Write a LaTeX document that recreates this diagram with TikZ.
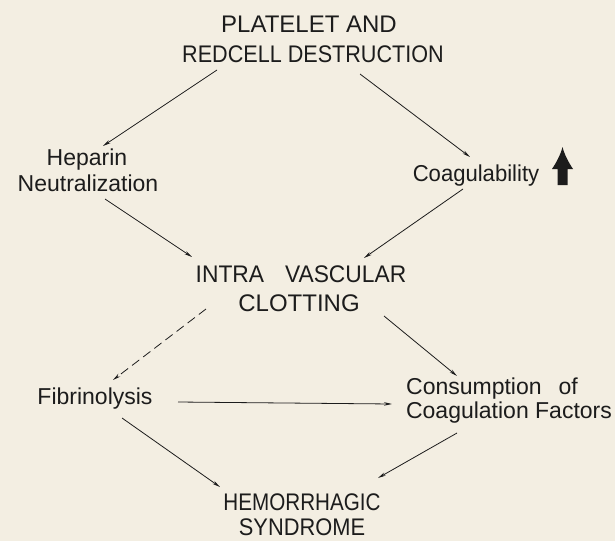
\documentclass[tikz,border=0pt]{standalone}
\usepackage{fontspec}
\setmainfont{Liberation Sans}
\usetikzlibrary{arrows.meta,calc}
\definecolor{paper}{RGB}{243,238,226}
\definecolor{ink}{RGB}{28,28,28}
\begin{document}
\begin{tikzpicture}[x=1pt,y=-1pt,
  lbl/.style={inner sep=0pt, anchor=base, text=ink, font=\fontsize{23}{23}\selectfont},
  capslbl/.style={lbl, font=\fontsize{24}{24}\selectfont},
  arr/.style={draw=ink, line width=0.8pt, -{Stealth[length=8pt,width=3.5pt]}},
  dsh/.style={arr, dash pattern=on 9pt off 5pt}
]
\fill[paper] (0,0) rectangle (615,541);
\useasboundingbox (0,0) rectangle (615,541);

\node[capslbl] (t1) at (309,32) {PLATELET AND};
\node[capslbl] (t2) at (313,62) {\scalebox{0.9}[1]{REDCELL DESTRUCTION}};
\node[lbl] (h1) at (87,165) {Heparin};
\node[lbl] (h2) at (88,191) {Neutralization};
\node[lbl] (cg) at (476,181) {\scalebox{0.96}[1]{Coagulability}};
\node[capslbl] (i1) at (301,282) {\scalebox{0.95}[1]{INTRA\hspace{22pt}VASCULAR}};
\node[capslbl] (i2) at (299,311) {CLOTTING};
\node[lbl] (fb) at (95,404) {Fibrinolysis};
\node[lbl] (c1) at (492,394) {Consumption\hspace{17pt}of};
\node[lbl] (c2) at (509,418) {Coagulation Factors};
\node[capslbl] (m1) at (302,510) {\scalebox{0.86}[1]{HEMORRHAGIC}};
\node[capslbl] (m2) at (302,535) {\scalebox{0.91}[1]{SYNDROME}};

% bold up arrow next to Coagulability
\coordinate (up) at (562.5,185);
\fill[ink] (up) ++(-5,0) -- ++(0,-16) -- ++(-5.5,0)
  .. controls +(4,-6) and +(-2,8) .. ++(10.5,-22)
  .. controls +(2,8) and +(-4,-6) .. ++(10.5,22)
  -- ++(-5.5,0) -- ++(0,16) -- cycle;

\draw[arr] ($(t2.base)+(-96,8)$) -- ($(h1.base)+(16,-19)$);
\draw[arr] ($(t2.base)+(47,12)$) -- ($(cg.base)+(-6,-24)$);
\draw[arr] ($(h2.base)+(17,8)$) -- ($(i1.base)+(-109,-25)$);
\draw[arr] ($(cg.base)+(-13,8)$) -- ($(i1.base)+(63,-24)$);
\draw[dsh] ($(i2.base)+(-93,-2)$) -- ($(fb.base)+(18,-24)$);
\draw[arr] ($(i2.base)+(85,5)$) -- ($(c1.base)+(-35,-18)$);
\draw[arr] ($(fb.base)+(83,-2)$) -- ($(c1.base)+(-100,10)$);
\draw[arr] ($(fb.base)+(27,14)$) -- ($(m1.base)+(-82,-23)$);
\draw[arr] ($(c2.base)+(-52,15)$) -- ($(m1.base)+(76,-32)$);
\end{tikzpicture}
\end{document}
